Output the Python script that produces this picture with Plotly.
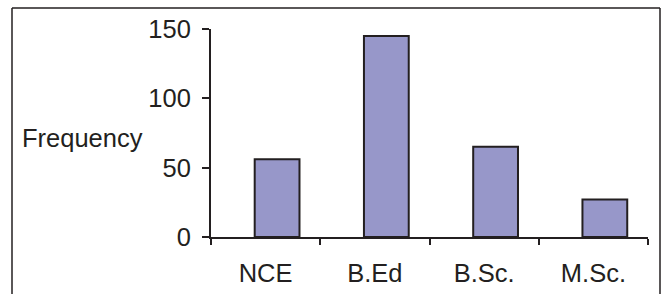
import plotly.graph_objects as go

categories = ["NCE", "B.Ed", "B.Sc.", "M.Sc."]
frequency = [56, 145, 65, 27]
y_ticks = [0, 50, 100, 150]

W, H = 662, 294
L, R, T, B = 211, 14, 29, 57
pw, ph = W - L - R, H - T - B

def px_x(p):
    return (p - L) / pw

def px_y(p):
    return (H - B - p) / ph

dark = "#231f20"
font = dict(family="Liberation Sans, Arial, sans-serif", size=25.5, color=dark)

fig = go.Figure(go.Bar(
    x=categories, y=frequency,
    width=0.41, offset=-0.1,
    marker=dict(color="#9797c9", line=dict(color=dark, width=2)),
))

fig.update_layout(
    width=W, height=H,
    margin=dict(l=L, r=R, t=T, b=B, pad=0, autoexpand=False),
    paper_bgcolor="white", plot_bgcolor="white",
    showlegend=False, font=font,
    xaxis=dict(
        type="category", range=[-0.5, 3.5], automargin=False,
        showline=True, linecolor=dark, linewidth=2,
        ticks="outside", tickson="boundaries", ticklen=6, tickwidth=2, tickcolor=dark,
        showgrid=False, zeroline=False, tickfont=font, ticklabelstandoff=12,
    ),
    yaxis=dict(
        range=[0, 150], tickvals=y_ticks, ticktext=[str(v) for v in y_ticks],
        automargin=False,
        showline=True, linecolor=dark, linewidth=2,
        ticks="outside", ticklen=7, tickwidth=2, tickcolor=dark,
        showgrid=False, zeroline=False, tickfont=font, ticklabelstandoff=6,
    ),
    annotations=[dict(
        text="Frequency", xref="paper", yref="paper",
        x=px_x(20), y=px_y(138), xanchor="left", yanchor="middle",
        showarrow=False, font=font,
    )],
    shapes=[
        dict(type="line", xref="paper", yref="paper", x0=px_x(12), x1=px_x(660),
             y0=px_y(8), y1=px_y(8), line=dict(color=dark, width=1.5)),
        dict(type="line", xref="paper", yref="paper", x0=px_x(12), x1=px_x(12),
             y0=px_y(8), y1=px_y(300), line=dict(color=dark, width=1.5)),
        dict(type="line", xref="paper", yref="paper", x0=px_x(660), x1=px_x(660),
             y0=px_y(8), y1=px_y(300), line=dict(color=dark, width=1.5)),
    ],
)

fig.write_html(
    "out.html",
    config={"displayModeBar": False},
    post_script="document.body.style.margin='0';document.body.style.overflow='hidden';",
)
